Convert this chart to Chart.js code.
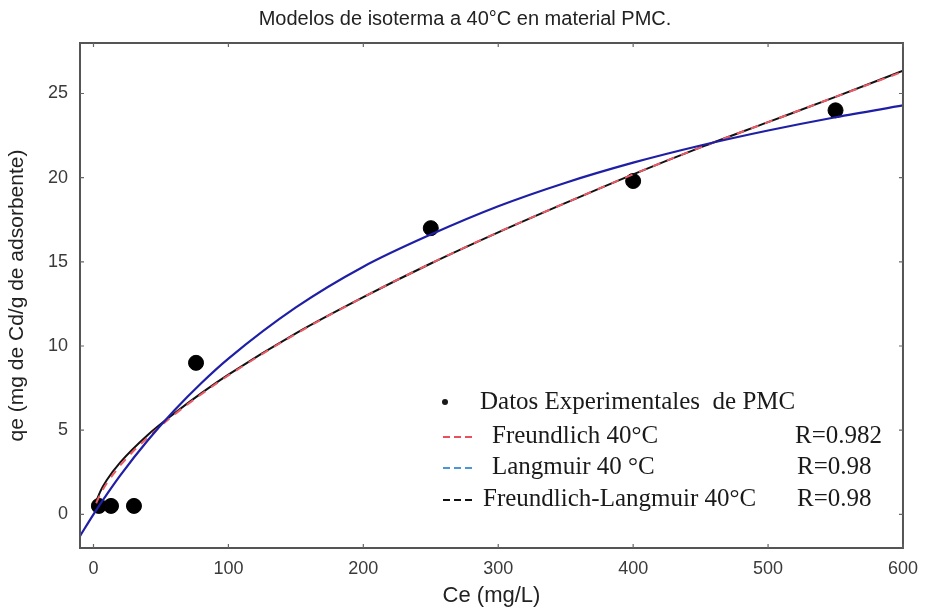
<!DOCTYPE html>
<html>
<head>
<meta charset="utf-8">
<script src="https://cdn.jsdelivr.net/npm/chart.js@4/dist/chart.umd.min.js"></script>
<style>
  html, body { margin: 0; padding: 0; background: #fff; }
  #wrap { width: 928px; height: 612px; position: relative; }
</style>
</head>
<body>
<div id="wrap"><canvas id="c" width="928" height="612"></canvas></div>
<script>
// ---- Data ----
const chartTitle = 'Modelos de isoterma a 40°C en material PMC.';
const xAxisTitle = 'Ce (mg/L)';
const yAxisTitle = 'qe (mg de Cd/g de adsorbente)';

const xTicks = [0, 100, 200, 300, 400, 500, 600];
const yTicks = [0, 5, 10, 15, 20, 25];

// Experimental points
const expCe = [4, 13, 30, 76, 250, 400, 550];
const expQe = [0.5, 0.5, 0.5, 9.0, 17.0, 19.8, 24.0];

// Freundlich curve
const freundCe = [2, 5, 10, 20, 40, 60, 80, 100, 150, 200, 250, 300, 350, 400, 450, 500, 550, 600];
const freundQe = [0.66, 1.19, 1.86, 2.92, 4.56, 5.93, 7.14, 8.25, 10.72, 12.9, 14.9, 16.76, 18.5, 20.2, 21.8, 23.3, 24.8, 26.3];

// Freundlich-Langmuir curve
const flCe = [2, 5, 10, 20, 40, 60, 80, 100, 150, 200, 250, 300, 350, 400, 450, 500, 550, 600];
const flQe = [0.75, 1.35, 2.05, 3.1, 4.7, 6.0, 7.2, 8.3, 10.75, 12.9, 14.9, 16.75, 18.5, 20.2, 21.8, 23.3, 24.8, 26.35];

// Langmuir curve
const langCe = [-10, 0, 10, 20, 40, 60, 80, 100, 150, 200, 250, 300, 350, 400, 450, 500, 550, 600];
const langQe = [-1.29, 0, 1.2, 2.33, 4.37, 6.18, 7.8, 9.25, 12.29, 14.71, 16.62, 18.3, 19.7, 20.89, 21.91, 22.8, 23.59, 24.29];

// Legend rows
const legendLabels = ['Datos Experimentales  de PMC', 'Freundlich 40°C', 'Langmuir 40 °C', 'Freundlich-Langmuir 40°C'];
const legendR = ['', 'R=0.982', 'R=0.98', 'R=0.98'];

const toXY = (xs, ys) => xs.map((x, i) => ({ x: x, y: ys[i] }));

const SANS = '"Liberation Sans", Arial, sans-serif';
const SERIF = '"Liberation Serif", "Times New Roman", serif';

const framePlugin = {
  id: 'frame',
  afterDraw(chart) {
    const { ctx, chartArea: a, scales } = chart;
    ctx.save();
    ctx.strokeStyle = '#555';
    ctx.lineWidth = 2;
    ctx.strokeRect(a.left, a.top, a.right - a.left, a.bottom - a.top);
    ctx.lineWidth = 1.2;
    ctx.strokeStyle = '#666';
    const tl = 4;
    scales.x.ticks.forEach(t => {
      const px = scales.x.getPixelForValue(t.value);
      ctx.beginPath();
      ctx.moveTo(px, a.bottom); ctx.lineTo(px, a.bottom - tl);
      ctx.moveTo(px, a.top); ctx.lineTo(px, a.top + tl);
      ctx.stroke();
    });
    scales.y.ticks.forEach(t => {
      const py = scales.y.getPixelForValue(t.value);
      ctx.beginPath();
      ctx.moveTo(a.left, py); ctx.lineTo(a.left + tl, py);
      ctx.moveTo(a.right, py); ctx.lineTo(a.right - tl, py);
      ctx.stroke();
    });
    // title
    ctx.fillStyle = '#222';
    ctx.font = '20px ' + SANS;
    ctx.textAlign = 'center';
    ctx.textBaseline = 'middle';
    ctx.fillText(chartTitle, 465, 19);
    ctx.restore();
  }
};

const legendPlugin = {
  id: 'customLegend',
  afterDatasetsDraw(chart) {
    const ctx = chart.ctx;
    ctx.save();
    const rowsY = [402, 436, 467, 499];
    const dashColors = [null, '#e8505e', '#4a97d8', '#111'];
    ctx.font = '25px ' + SERIF;
    ctx.textBaseline = 'middle';
    ctx.fillStyle = '#1a1a1a';
    // bullet
    ctx.beginPath();
    ctx.arc(445, rowsY[0], 3, 0, Math.PI * 2);
    ctx.fill();
    for (let i = 0; i < legendLabels.length; i++) {
      const y = rowsY[i];
      if (dashColors[i]) {
        ctx.strokeStyle = dashColors[i];
        ctx.lineWidth = 2;
        for (let k = 0; k < 3; k++) {
          ctx.beginPath();
          ctx.moveTo(443 + k * 11, y + 1);
          ctx.lineTo(450 + k * 11, y + 1);
          ctx.stroke();
        }
      }
      ctx.fillStyle = '#1a1a1a';
      ctx.textAlign = 'left';
      const lx = i === 0 ? 480 : (i === 3 ? 483 : 492);
      ctx.fillText(legendLabels[i], lx, y);
      if (legendR[i]) {
        ctx.fillText(legendR[i], i === 1 ? 795 : 797, y);
      }
    }
    ctx.restore();
  }
};

new Chart(document.getElementById('c'), {
  type: 'scatter',
  data: {
    datasets: [
      {
        label: 'Langmuir 40 °C',
        data: toXY(langCe, langQe),
        showLine: true,
        borderColor: '#1f1fa6',
        borderWidth: 2.2,
        pointRadius: 0,
        cubicInterpolationMode: 'monotone',
        order: 0
      },
      {
        label: 'Freundlich 40°C',
        data: toXY(freundCe, freundQe),
        showLine: true,
        borderColor: '#ec5a66',
        borderWidth: 2,
        borderDash: [8, 7],
        pointRadius: 0,
        cubicInterpolationMode: 'monotone',
        order: 1
      },
      {
        label: 'Freundlich-Langmuir 40°C',
        data: toXY(flCe, flQe),
        showLine: true,
        borderColor: '#111',
        borderWidth: 2,
        pointRadius: 0,
        cubicInterpolationMode: 'monotone',
        order: 2
      },
      {
        label: 'Datos Experimentales de PMC',
        data: toXY(expCe, expQe),
        showLine: false,
        backgroundColor: '#000',
        borderColor: '#000',
        pointRadius: 7.5,
        pointHoverRadius: 7.5,
        order: 3
      }
    ]
  },
  options: {
    responsive: false,
    animation: false,
    events: [],
    layout: { padding: { top: 43, right: 20, left: 0, bottom: 0 } },
    plugins: {
      legend: { display: false },
      title: { display: false },
      tooltip: { enabled: false }
    },
    scales: {
      x: {
        type: 'linear',
        min: -10,
        max: 600,
        grid: { display: false, drawTicks: false },
        border: { display: false },
        afterBuildTicks: s => { s.ticks = xTicks.map(v => ({ value: v })); },
        afterFit: s => { s.height = 64; },
        ticks: {
          padding: 10,
          color: '#3a3a3a',
          font: { family: SANS, size: 18 }
        },
        title: {
          display: true,
          text: xAxisTitle,
          color: '#222',
          font: { family: SANS, size: 22 },
          padding: { top: 0, bottom: 3 }
        }
      },
      y: {
        type: 'linear',
        min: -2,
        max: 28,
        grid: { display: false, drawTicks: false },
        border: { display: false },
        afterBuildTicks: s => { s.ticks = yTicks.map(v => ({ value: v })); },
        afterFit: s => { s.width = 80; },
        ticks: {
          padding: 12,
          color: '#3a3a3a',
          font: { family: SANS, size: 18 }
        },
        title: {
          display: true,
          text: yAxisTitle,
          color: '#222',
          font: { family: SANS, size: 21 },
          padding: { top: 5, bottom: 0 }
        }
      }
    }
  },
  plugins: [framePlugin, legendPlugin]
});
</script>
</body>
</html>
